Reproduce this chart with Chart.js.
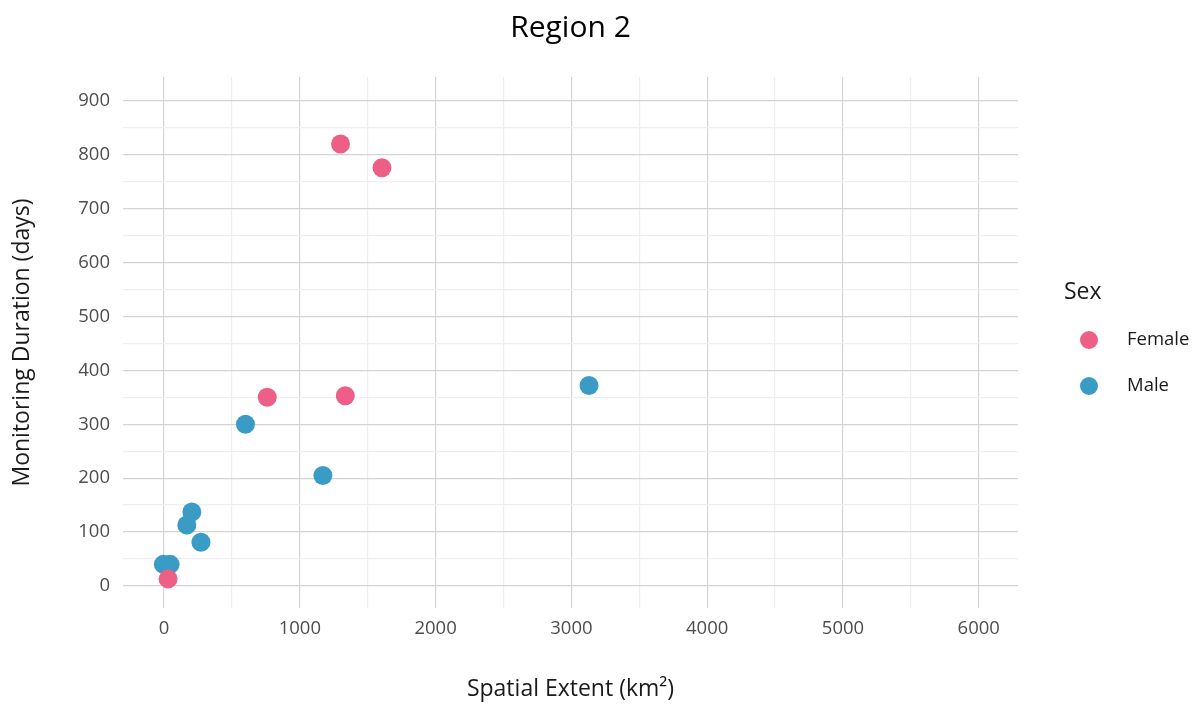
<!DOCTYPE html>
<html>
<head>
<meta charset="utf-8">
<script src="https://cdn.jsdelivr.net/npm/chart.js@4/dist/chart.umd.min.js"></script>
<style>
  html, body { margin: 0; padding: 0; background: #fff; }
  #wrap { width: 1200px; height: 706px; position: relative; }
</style>
</head>
<body>
<div id="wrap"><canvas id="chart"></canvas></div>
<script>
// ─── Data ───────────────────────────────────────────────────────────────────
const femaleExtent   = [1300, 1605, 760, 1335, 30];
const femaleDuration = [820, 776, 350, 353, 13];
const maleExtent     = [3130, 600, 1170, 205, 168, 272, -5, 45];
const maleDuration   = [372, 300, 205, 137, 113, 81, 40, 40];

const xTicks = [0, 500, 1000, 1500, 2000, 2500, 3000, 3500, 4000, 4500, 5000, 5500, 6000];
const yTicks = [0, 50, 100, 150, 200, 250, 300, 350, 400, 450, 500, 550, 600, 650, 700, 750, 800, 850, 900];

const FONT = '"Open Sans", "Noto Sans", sans-serif';
const FEMALE = '#EE5F87';
const MALE = '#3A9CC5';

const toPoints = (xs, ys) => xs.map((x, i) => ({ x, y: ys[i] }));

// title + legend drawn beside the panel, ggplot-style
const decor = {
  id: 'decor',
  afterDraw(chart) {
    const { ctx, chartArea } = chart;
    ctx.save();
    ctx.fillStyle = '#000';
    ctx.font = '30px ' + FONT;
    ctx.textAlign = 'center';
    ctx.textBaseline = 'middle';
    ctx.fillText('Region 2', (chartArea.left + chartArea.right) / 2, 28);

    ctx.textAlign = 'left';
    ctx.font = '23px ' + FONT;
    ctx.fillStyle = '#1a1a1a';
    ctx.fillText('Sex', 1064, 292);
    ctx.font = '18.5px ' + FONT;
    chart.data.datasets.forEach((ds, i) => {
      const y = 340 + i * 46;
      ctx.beginPath();
      ctx.arc(1089, y, 9, 0, Math.PI * 2);
      ctx.fillStyle = ds.backgroundColor;
      ctx.fill();
      ctx.fillStyle = '#1a1a1a';
      ctx.fillText(ds.label, 1127, y);
    });
    ctx.restore();
  }
};

const gridColor = v => (v % 100 === 0 ? '#d4d4d4' : '#eeeeee');

new Chart(document.getElementById('chart'), {
  type: 'scatter',
  data: {
    datasets: [
      { label: 'Female', data: toPoints(femaleExtent, femaleDuration), backgroundColor: FEMALE, borderWidth: 0, pointRadius: 9.5, pointHoverRadius: 9.5 },
      { label: 'Male', data: toPoints(maleExtent, maleDuration), backgroundColor: MALE, borderWidth: 0, pointRadius: 9.5, pointHoverRadius: 9.5 },
    ]
  },
  options: {
    responsive: true,
    maintainAspectRatio: false,
    animation: false,
    layout: { padding: { left: 0, top: 77, right: 182, bottom: 0 } },
    plugins: {
      legend: { display: false },
      title: { display: false },
      tooltip: { enabled: false }
    },
    scales: {
      x: {
        type: 'linear',
        min: -302,
        max: 6289,
        border: { display: false },
        afterBuildTicks: axis => { axis.ticks = xTicks.map(v => ({ value: v })); },
        afterFit: s => { s.height = 98; },
        grid: {
          drawTicks: false,
          lineWidth: 1.2,
          color: ctx => (ctx.tick && ctx.tick.value % 1000 === 0 ? '#d4d4d4' : '#eeeeee')
        },
        ticks: {
          autoSkip: false,
          maxRotation: 0,
          padding: 10,
          color: '#4d4d4d',
          font: { family: FONT, size: 18.5 },
          callback: v => (v % 1000 === 0 ? String(v) : '')
        },
        title: {
          display: true,
          text: 'Spatial Extent (km²)',
          color: '#1a1a1a',
          font: { family: FONT, size: 23 },
          padding: { top: 0, bottom: 3 }
        }
      },
      y: {
        type: 'linear',
        min: -41,
        max: 944.5,
        border: { display: false },
        afterBuildTicks: axis => { axis.ticks = yTicks.map(v => ({ value: v })); },
        afterFit: s => { s.width = 123; },
        grid: {
          drawTicks: false,
          lineWidth: 1.2,
          color: ctx => (ctx.tick ? gridColor(ctx.tick.value) : '#eeeeee')
        },
        ticks: {
          autoSkip: false,
          padding: 13,
          color: '#4d4d4d',
          font: { family: FONT, size: 18.5 },
          callback: v => (v % 100 === 0 ? String(v) : '')
        },
        title: {
          display: true,
          text: 'Monitoring Duration (days)',
          color: '#1a1a1a',
          font: { family: FONT, size: 23 },
          padding: { top: 9, bottom: 0 }
        }
      }
    }
  },
  plugins: [decor]
});
</script>
</body>
</html>
